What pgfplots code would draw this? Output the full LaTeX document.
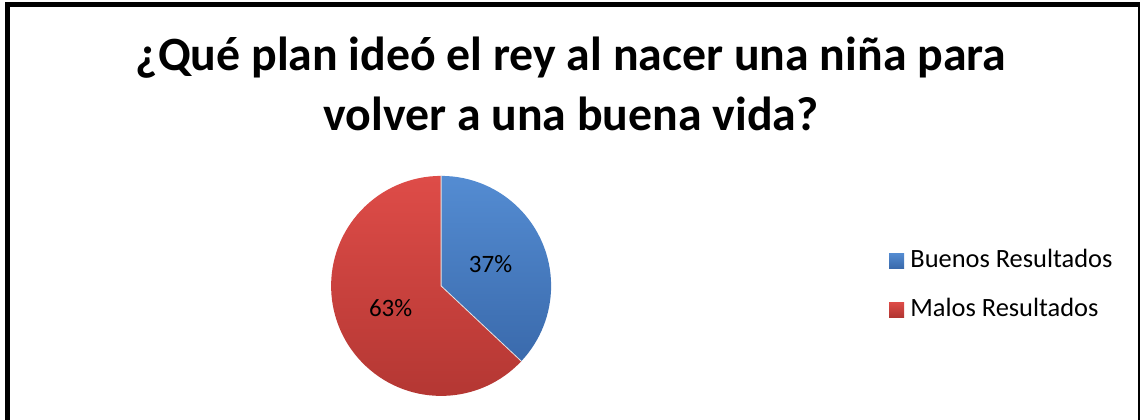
\documentclass[border=0pt]{standalone}
\usepackage{pgfplots}
\pgfplotsset{compat=1.18}
\usepackage{pgfplotstable}
\usepackage{fontspec}
\setmainfont{Carlito}

\definecolor{buenosTop}{RGB}{84,140,210}
\definecolor{buenosBot}{RGB}{58,106,172}
\definecolor{malosTop}{RGB}{222,76,72}
\definecolor{malosBot}{RGB}{178,54,50}

\pgfplotstableread{
name value
Buenos 37
Malos 63
}\piedata

\begin{document}
\begin{tikzpicture}[x=0.5pt,y=0.5pt]
\useasboundingbox (0,0) rectangle (1140,419);
% frame (bottom edge is cut off in the reference)
\draw[line width=2.25pt] (7.5,-20) -- (7.5,414.5) -- (1140.5,414.5) -- (1140.5,-20);

% title
\node[anchor=base, font=\fontsize{23.9}{30}\selectfont\bfseries] at (571,349) {¿Qué plan ideó el rey al nacer una niña para};
\node[anchor=base, font=\fontsize{23.9}{30}\selectfont\bfseries] at (571,289) {volver a una buena vida?};

\pgfplotstablegetelem{0}{value}\of\piedata \let\va\pgfplotsretval
\pgfplotstablegetelem{1}{value}\of\piedata \let\vb\pgfplotsretval
\pgfmathsetmacro\aend{90-3.6*\va}
\pgfmathsetmacro\amida{90-1.8*\va}
\pgfmathsetmacro\amidb{\aend-1.8*\vb}

\begin{axis}[
    at={(401,121)}, anchor=origin,
    x=55pt, y=55pt,
    xmin=-1, xmax=1, ymin=-1, ymax=1,
    hide axis, clip=false,
]
\shade[top color=buenosTop, bottom color=buenosBot]
    (axis cs:0,0) -- (axis cs:0,1) arc[start angle=90, end angle=\aend, radius=55pt] -- cycle;
\shade[top color=malosTop, bottom color=malosBot]
    (axis cs:0,0) -- (axis cs:{cos(\aend)},{sin(\aend)}) arc[start angle=\aend, end angle=-270, radius=55pt] -- cycle;
\draw[white!80!gray, line width=0.4pt]
    (axis cs:0,1) -- (axis cs:0,0) -- (axis cs:{cos(\aend)},{sin(\aend)});
\node[font=\fontsize{12.5}{14}\selectfont] at (axis cs:{0.49*cos(\amida)},{0.49*sin(\amida)}) {\va\%};
\node[font=\fontsize{12.5}{14}\selectfont] at (axis cs:{0.5*cos(\amidb)},{0.5*sin(\amidb)}) {\vb\%};
\end{axis}

% legend
\shade[top color=buenosTop, bottom color=buenosBot] (889,151) rectangle (904,166);
\node[anchor=base west, inner sep=0pt, font=\fontsize{13.2}{15}\selectfont] at (910,152) {Buenos Resultados};
\shade[top color=malosTop, bottom color=malosBot] (889,102) rectangle (904,117);
\node[anchor=base west, inner sep=0pt, font=\fontsize{13.2}{15}\selectfont] at (910,103) {Malos Resultados};
\end{tikzpicture}
\end{document}
